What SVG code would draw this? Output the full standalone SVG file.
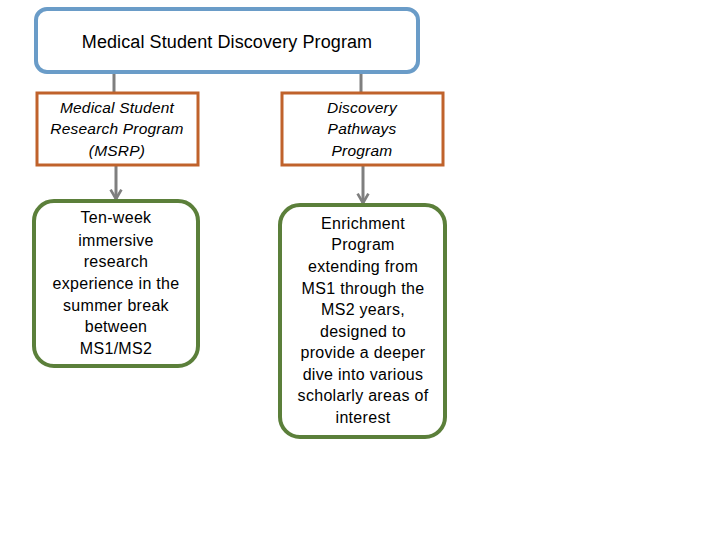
<svg xmlns="http://www.w3.org/2000/svg" width="720" height="540" viewBox="0 0 720 540">
<defs>
<marker id="ah" viewBox="0 0 10 10" refX="8" refY="5" markerWidth="4.5" markerHeight="4.5" orient="auto" markerUnits="strokeWidth">
<path d="M1,1 L8,5 L1,9" fill="none" stroke="#7F7F7F" stroke-width="2"/>
</marker>
</defs>
<style>
text{font-family:"Liberation Sans",Calibri,Arial,sans-serif;fill:#000;text-anchor:middle}
.t{font-size:18px;letter-spacing:0.1px}
.i{font-size:15.5px;font-style:italic;letter-spacing:0.2px}
.b{font-size:16px;letter-spacing:0.3px}
.top{fill:#fff;stroke:#6A9CC8;stroke-width:4}
.mid{fill:#fff;stroke:#C0622B;stroke-width:3}
.bot{fill:#fff;stroke:#5B7F3A;stroke-width:4}
.c{stroke:#7F7F7F;stroke-width:3;fill:none}
</style>
<rect width="720" height="540" fill="#fff"/>
<g id="connectors">
<line class="c" x1="114" y1="72" x2="114" y2="93"/>
<line class="c" x1="361" y1="72" x2="361" y2="93"/>
<line class="c" x1="116" y1="165" x2="116" y2="199" marker-end="url(#ah)"/>
<line class="c" x1="363" y1="165" x2="363" y2="203" marker-end="url(#ah)"/>
</g>
<g id="node-top">
<rect class="top" x="36" y="9" width="382" height="63" rx="11"/>
<text class="t" x="227" y="48">Medical Student Discovery Program</text>
</g>
<g id="node-msrp">
<rect class="mid" x="37" y="93" width="161" height="72"/>
<text class="i" x="117" y="113">Medical Student</text>
<text class="i" x="117" y="134">Research Program</text>
<text class="i" x="117" y="156">(MSRP)</text>
</g>
<g id="node-dpp">
<rect class="mid" x="282" y="93" width="161" height="72"/>
<text class="i" x="362" y="113">Discovery</text>
<text class="i" x="362" y="134">Pathways</text>
<text class="i" x="362" y="156">Program</text>
</g>
<g id="node-tenweek">
<rect class="bot" x="34" y="201" width="164" height="165" rx="20"/>
<text class="b" x="116" y="223">Ten-week</text>
<text class="b" x="116" y="246">immersive</text>
<text class="b" x="116" y="267">research</text>
<text class="b" x="116" y="289">experience in the</text>
<text class="b" x="116" y="311">summer break</text>
<text class="b" x="116" y="332">between</text>
<text class="b" x="116" y="354">MS1/MS2</text>
</g>
<g id="node-enrichment">
<rect class="bot" x="280" y="205" width="165" height="232" rx="20"/>
<text class="b" x="363" y="229">Enrichment</text>
<text class="b" x="363" y="250">Program</text>
<text class="b" x="363" y="272">extending from</text>
<text class="b" x="363" y="294">MS1 through the</text>
<text class="b" x="363" y="315">MS2 years,</text>
<text class="b" x="363" y="337">designed to</text>
<text class="b" x="363" y="358">provide a deeper</text>
<text class="b" x="363" y="380">dive into various</text>
<text class="b" x="363" y="401">scholarly areas of</text>
<text class="b" x="363" y="423">interest</text>
</g>
</svg>
